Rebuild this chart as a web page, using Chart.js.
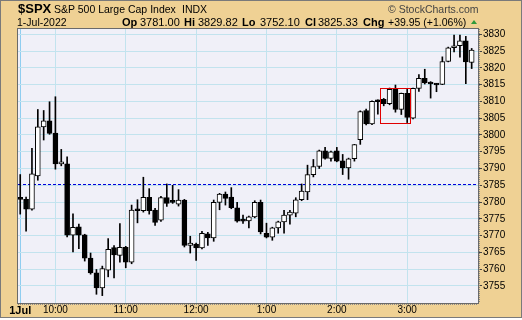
<!DOCTYPE html>
<html>
<head>
<meta charset="utf-8">
<script src="https://cdn.jsdelivr.net/npm/chart.js@4"></script>
<style>
    body { margin: 0; background: #fff; }
    #frame { position: absolute; left: 0; top: 0; width: 520px; height: 316px; background: #efd194; border: 1px solid #7a7a7a; }
    #chart { position: absolute; left: 0; top: 0; }
    .t { position: absolute; font-family: "Liberation Sans", Arial, sans-serif; line-height: 1; white-space: nowrap; color: #000; }
    .b { font-weight: bold; }
    #up { position: absolute; left: 471px; top: 20px; width: 0; height: 0; border-left: 3px solid transparent; border-right: 3px solid transparent; border-bottom: 4px solid #2f9a3a; }
</style>
</head>
<body>
<div id="frame"></div>
<canvas id="chart" width="522" height="320"></canvas>
<div class="t b" style="left:18px;top:2px;font-size:13px">$SPX</div>
<div class="t" style="left:54px;top:4px;font-size:10.5px">S&amp;P 500 Large Cap Index</div>
<div class="t" style="left:182px;top:4px;font-size:10.5px">INDX</div>
<div class="t" style="left:388px;top:4px;font-size:10.5px;color:#444">© StockCharts.com</div>
<div class="t" style="left:17px;top:17px;font-size:10.5px">1-Jul-2022</div>
<div class="t b" style="left:122px;top:17px;font-size:11px">Op</div>
<div class="t" style="left:140px;top:17px;font-size:11px">3781.00</div>
<div class="t b" style="left:184px;top:17px;font-size:11px">Hi</div>
<div class="t" style="left:198px;top:17px;font-size:11px">3829.82</div>
<div class="t b" style="left:242px;top:17px;font-size:11px">Lo</div>
<div class="t" style="left:260px;top:17px;font-size:11px">3752.10</div>
<div class="t b" style="left:305px;top:17px;font-size:11px">Cl</div>
<div class="t" style="left:318px;top:17px;font-size:11px">3825.33</div>
<div class="t b" style="left:363px;top:17px;font-size:11px">Chg</div>
<div class="t" style="left:388px;top:17px;font-size:10.5px">+39.95 (+1.06%)</div>
<div id="up"></div>
<script>
    // 5-minute bars, 9:30 .. 3:55
    const opens = [
        3781.0, 3780.8, 3777.9, 3787.8, 3802.4, 3804.2, 3800.6, 3791.4, 3791.4, 3770.1,
        3772.6, 3770.2, 3763.3, 3758.9, 3754.4, 3759.7, 3766.4, 3764.1, 3766.5, 3762.1,
        3777.7, 3777.4, 3781.4, 3777.6, 3774.6, 3781.3, 3780.4, 3779.4, 3780.6, 3767.1,
        3767.5, 3766.3, 3770.5, 3769.3, 3779.9, 3782.4, 3781.5, 3778.3, 3774.4, 3774.4,
        3775.6, 3779.9, 3770.7, 3769.5, 3772.3, 3774.1, 3776.1, 3776.7, 3780.7, 3783.0,
        3788.2, 3790.6, 3795.3, 3793.0, 3795.3, 3792.3, 3790.2, 3792.9, 3798.6, 3807.3,
        3803.3, 3810.2, 3810.6, 3809.3, 3813.6, 3807.6, 3812.4, 3805.0, 3813.9, 3816.9,
        3815.7, 3815.2, 3815.1, 3821.9, 3826.0, 3826.6, 3828.1, 3821.6
    ];
    const highs = [
        3788.2, 3781.5, 3796.0, 3807.6, 3807.3, 3809.9, 3811.4, 3795.7, 3793.5, 3776.5,
        3773.4, 3770.4, 3764.8, 3759.9, 3760.9, 3769.1, 3767.0, 3773.6, 3766.8, 3779.1,
        3780.7, 3787.4, 3784.0, 3778.1, 3781.7, 3785.4, 3785.0, 3783.7, 3780.8, 3769.8,
        3767.8, 3771.3, 3771.0, 3780.6, 3782.6, 3783.0, 3784.3, 3779.9, 3776.1, 3775.8,
        3780.4, 3780.6, 3773.7, 3772.5, 3774.3, 3777.5, 3777.5, 3781.3, 3785.4, 3791.0,
        3792.7, 3795.5, 3796.3, 3795.2, 3796.3, 3794.2, 3793.1, 3797.2, 3807.2, 3807.7,
        3810.2, 3810.5, 3810.9, 3814.0, 3814.9, 3812.5, 3813.6, 3814.0, 3818.0, 3819.6,
        3815.9, 3815.4, 3823.3, 3826.2, 3829.8, 3829.8, 3829.4, 3825.8
    ];
    const lows = [
        3776.4, 3771.3, 3777.6, 3786.5, 3798.5, 3800.2, 3789.8, 3790.8, 3769.6, 3765.1,
        3766.1, 3762.4, 3758.5, 3752.5, 3752.1, 3757.7, 3757.4, 3762.1, 3760.4, 3761.6,
        3773.8, 3777.0, 3776.4, 3773.0, 3774.2, 3778.7, 3779.6, 3778.8, 3766.6, 3764.8,
        3762.6, 3766.0, 3767.1, 3768.3, 3777.7, 3779.1, 3778.0, 3774.0, 3773.6, 3772.3,
        3775.3, 3770.5, 3769.3, 3768.6, 3770.7, 3770.7, 3773.4, 3775.6, 3780.4, 3780.7,
        3787.5, 3790.0, 3792.8, 3792.2, 3792.0, 3788.2, 3786.8, 3792.2, 3797.2, 3803.0,
        3803.1, 3806.2, 3808.7, 3809.0, 3806.8, 3806.1, 3803.7, 3804.8, 3813.0, 3815.2,
        3811.0, 3812.9, 3815.0, 3821.8, 3824.8, 3823.2, 3815.3, 3819.8
    ];
    const closes = [
        3780.8, 3777.9, 3788.4, 3802.4, 3804.2, 3800.5, 3791.4, 3791.6, 3770.1, 3772.5,
        3770.1, 3763.3, 3758.9, 3754.4, 3760.2, 3765.9, 3764.2, 3766.5, 3762.1, 3777.6,
        3777.4, 3781.4, 3777.4, 3773.9, 3781.3, 3779.6, 3779.9, 3780.6, 3767.1, 3767.8,
        3766.3, 3770.7, 3769.3, 3779.9, 3782.4, 3781.1, 3778.3, 3774.3, 3774.3, 3775.6,
        3779.9, 3771.1, 3769.5, 3772.3, 3774.1, 3776.1, 3777.0, 3780.7, 3783.3, 3788.2,
        3790.6, 3795.3, 3793.0, 3795.0, 3792.2, 3790.2, 3792.9, 3797.1, 3807.0, 3803.3,
        3810.0, 3809.9, 3809.3, 3813.6, 3807.6, 3812.4, 3805.2, 3813.9, 3816.9, 3815.5,
        3815.2, 3814.9, 3821.9, 3826.0, 3826.6, 3828.1, 3821.8, 3825.3
    ];

    const prevClose = 3785.38;
    const yTicks = [3755, 3760, 3765, 3770, 3775, 3780, 3785, 3790, 3795, 3800, 3805, 3810, 3815, 3820, 3825, 3830];
    const xTickBars = [0, 6, 18, 30, 42, 54, 66];
    const xTickLabels = ["1Jul", "10:00", "11:00", "12:00", "1:00", "2:00", "3:00"];
    // red pattern box: bar range and price range
    const boxBars = [61.3, 66.5];
    const boxPrices = [3803.6, 3814.1];

    const font = "'Liberation Sans', Arial, sans-serif";
    const isUp = i => closes[i] >= opens[i];

    const plotDecor = {
        id: "plotDecor",
        beforeDraw(chart) {
            const a = chart.chartArea, ctx = chart.ctx;
            ctx.save();
            ctx.fillStyle = "#f0f0f8";
            ctx.fillRect(a.left, a.top, a.right - a.left, a.bottom - a.top);
            ctx.restore();
        },
        beforeDatasetsDraw(chart) {
            const a = chart.chartArea, ctx = chart.ctx;
            const y = Math.round(chart.scales.y.getPixelForValue(prevClose)) + 0.5;
            ctx.save();
            ctx.strokeStyle = "#0000dd";
            ctx.lineWidth = 1;
            ctx.setLineDash([3, 2]);
            ctx.beginPath();
            ctx.moveTo(a.left, y);
            ctx.lineTo(a.right, y);
            ctx.stroke();
            ctx.restore();
        },
        afterDatasetsDraw(chart) {
            const a = chart.chartArea, ctx = chart.ctx;
            const xs = chart.scales.x, ys = chart.scales.y;
            ctx.save();
            ctx.strokeStyle = "#e00000";
            ctx.lineWidth = 1;
            const x1 = Math.round(xs.getPixelForValue(boxBars[0])) + 0.5;
            const x2 = Math.round(xs.getPixelForValue(boxBars[1])) + 0.5;
            const y1 = Math.round(ys.getPixelForValue(boxPrices[1])) + 0.5;
            const y2 = Math.round(ys.getPixelForValue(boxPrices[0])) + 0.5;
            ctx.strokeRect(x1, y1, x2 - x1, y2 - y1);

            ctx.strokeStyle = "#6a6a6a";
            ctx.strokeRect(a.left - 0.5, a.top - 0.5, a.right - a.left + 1, a.bottom - a.top + 1);
            ctx.strokeStyle = "#8a8a8a";
            ctx.setLineDash([1, 1]);
            ctx.beginPath();
            ctx.moveTo(a.left, a.bottom + 1.5);
            ctx.lineTo(a.right, a.bottom + 1.5);
            ctx.moveTo(a.right + 1.5, a.top);
            ctx.lineTo(a.right + 1.5, a.bottom);
            ctx.stroke();
            ctx.restore();
        }
    };

    new Chart(document.getElementById("chart"), {
        type: "bar",
        data: {
            datasets: [{
                label: "wick",
                data: opens.map((o, i) => ({ x: i, y: [lows[i], highs[i]] })),
                backgroundColor: "#000",
                borderWidth: 0,
                barThickness: 1,
                grouped: false,
                order: 2
            }, {
                label: "body",
                data: opens.map((o, i) => ({ x: i, y: [o, closes[i]] })),
                backgroundColor: ctx => isUp(ctx.dataIndex) ? "#ffffff" : "#000000",
                borderColor: "#000",
                borderWidth: 1,
                borderSkipped: false,
                barThickness: 5,
                minBarLength: 2,
                grouped: false,
                order: 1
            }]
        },
        options: {
            responsive: false,
            animation: false,
            devicePixelRatio: 1,
            layout: { padding: { left: 18, top: 29, right: 0, bottom: 0 } },
            plugins: { legend: { display: false }, tooltip: { enabled: false } },
            scales: {
                x: {
                    type: "linear",
                    min: -0.38,
                    max: 78.08,
                    offset: false,
                    afterFit: s => { s.height = 17; },
                    afterBuildTicks: s => { s.ticks = xTickBars.map(v => ({ value: v })); },
                    grid: {
                        offset: false,
                        drawTicks: false,
                        color: ctx => ctx.tick && ctx.tick.value === 0 ? "#8fcdf0" : "#c2e3ee"
                    },
                    border: { display: false },
                    ticks: {
                        autoSkip: false,
                        maxRotation: 0,
                        padding: 1,
                        color: "#000",
                        font: ctx => ({ family: font, size: ctx.index === 0 ? 11 : 10, weight: ctx.index === 0 ? "bold" : "normal" }),
                        callback: v => xTickLabels[xTickBars.indexOf(v)]
                    }
                },
                y: {
                    position: "right",
                    min: 3749.9,
                    max: 3831.6,
                    beginAtZero: false,
                    afterFit: s => { s.width = 44; },
                    afterBuildTicks: s => { s.ticks = yTicks.map(v => ({ value: v })); },
                    grid: { color: "#c2e3ee", tickColor: "#444", tickLength: 4 },
                    border: { display: false },
                    ticks: {
                        padding: 1,
                        color: "#000",
                        font: { family: font, size: 10 },
                        callback: v => String(v)
                    }
                }
            }
        },
        plugins: [plotDecor]
    });
</script>
</body>
</html>
